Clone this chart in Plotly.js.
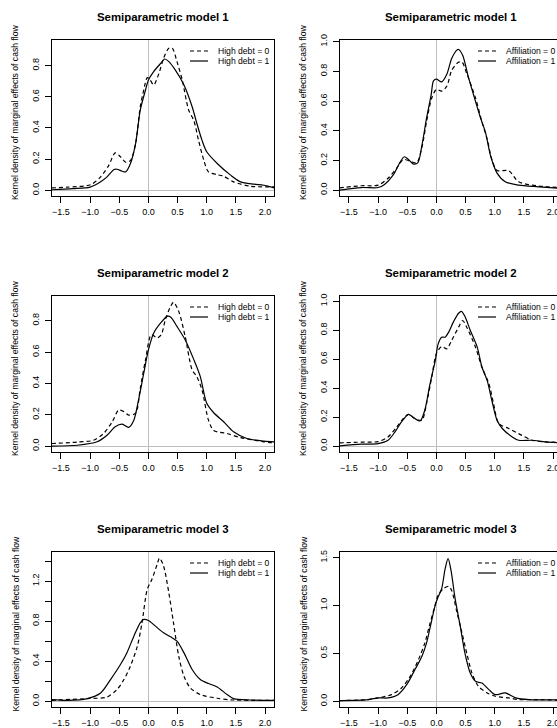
<!DOCTYPE html>
<html>
<head>
<meta charset="utf-8">
<script src="https://cdn.plot.ly/plotly-3.0.1.min.js"></script>
<style>
html, body { margin: 0; padding: 0; overflow: hidden; background: #fff; }
#chart { width: 576px; height: 768px; }
</style>
</head>
<body>
<div id="chart"></div>
<script>
// ---------- data ----------
const panelTitles = ["Semiparametric model 1", "Semiparametric model 1",
                     "Semiparametric model 2", "Semiparametric model 2",
                     "Semiparametric model 3", "Semiparametric model 3"];
const yAxisTitle = "Kernel density of marginal effects of cash flow";
const debtNames = ["High debt = 0", "High debt = 1"];
const affNames = ["Affiliation = 0", "Affiliation = 1"];

const xTicks = [-1.5, -1.0, -0.5, 0.0, 0.5, 1.0, 1.5, 2.0];
const xTickLabels = ["\u22121.5", "\u22121.0", "\u22120.5", "0.0", "0.5", "1.0", "1.5", "2.0"];
const yTicksA = [0, 0.2, 0.4, 0.6, 0.8];
const yTickLabelsA = ["0.0", "0.2", "0.4", "0.6", "0.8"];
const yTicksB = [0, 0.2, 0.4, 0.6, 0.8, 1.0];
const yTickLabelsB = ["0.0", "0.2", "0.4", "0.6", "0.8", "1.0"];
const yTicksC = [0, 0.2, 0.4, 0.6, 0.8, 1.0, 1.2, 1.4];
const yTickLabelsC = ["0.0", "", "0.4", "", "0.8", "", "1.2", ""];
const yTicksD = [0, 0.5, 1.0, 1.5];
const yTickLabelsD = ["0.0", "0.5", "1.0", "1.5"];

// Model 1, high debt
const m1DebtX0 = [-1.66,-1.39,-0.99,-0.82,-0.68,-0.57,-0.48,-0.39,-0.31,-0.22,-0.14,-0.08,-0.02,0.03,0.09,0.18,0.26,0.35,0.41,0.49,0.58,0.69,0.78,0.86,0.95,1.03,1.18,1.29,1.46,1.75,2.16];
const m1DebtY0 = [0.015,0.02,0.036,0.086,0.16,0.24,0.215,0.18,0.19,0.30,0.536,0.644,0.723,0.708,0.676,0.75,0.848,0.912,0.912,0.826,0.708,0.515,0.446,0.32,0.193,0.118,0.10,0.09,0.054,0.026,0.021];
const m1DebtX1 = [-1.66,-1.30,-1.0,-0.82,-0.71,-0.59,-0.54,-0.45,-0.39,-0.31,-0.22,-0.14,-0.05,0.0,0.09,0.21,0.28,0.35,0.46,0.61,0.75,0.83,0.92,1.0,1.18,1.41,1.58,1.81,1.98,2.16];
const m1DebtY1 = [0.003,0.01,0.02,0.054,0.086,0.133,0.135,0.122,0.118,0.17,0.30,0.515,0.644,0.708,0.762,0.815,0.843,0.826,0.773,0.676,0.536,0.43,0.32,0.247,0.172,0.097,0.054,0.039,0.032,0.015];

// Model 1, affiliation
const m1AffX0 = [-1.66,-1.29,-1.0,-0.83,-0.68,-0.57,-0.45,-0.34,-0.25,-0.17,-0.08,0.0,0.09,0.18,0.26,0.38,0.44,0.52,0.67,0.78,0.87,0.95,1.04,1.24,1.41,1.76,2.16];
const m1AffY0 = [0.016,0.03,0.034,0.08,0.149,0.207,0.195,0.184,0.287,0.46,0.621,0.678,0.667,0.701,0.805,0.862,0.862,0.786,0.621,0.46,0.345,0.207,0.133,0.131,0.057,0.028,0.018];
const m1AffX1 = [-1.66,-1.29,-1.0,-0.89,-0.74,-0.63,-0.55,-0.48,-0.40,-0.32,-0.25,-0.17,-0.09,-0.05,0.0,0.09,0.18,0.26,0.35,0.38,0.45,0.55,0.67,0.75,0.84,0.93,1.04,1.18,1.41,1.76,2.16];
const m1AffY1 = [0.0,0.018,0.018,0.039,0.103,0.184,0.225,0.207,0.177,0.184,0.299,0.483,0.644,0.736,0.747,0.729,0.782,0.885,0.943,0.947,0.908,0.759,0.598,0.494,0.391,0.23,0.115,0.057,0.034,0.023,0.011];

// Model 2, high debt
const m2DebtX0 = [-1.66,-1.22,-0.94,-0.77,-0.62,-0.51,-0.42,-0.34,-0.22,-0.14,-0.05,0.05,0.15,0.22,0.29,0.38,0.43,0.52,0.63,0.75,0.83,0.92,1.03,1.12,1.35,1.58,1.98,2.16];
const m2DebtY0 = [0.017,0.026,0.038,0.081,0.156,0.23,0.22,0.198,0.21,0.369,0.55,0.71,0.69,0.71,0.806,0.891,0.917,0.859,0.70,0.486,0.443,0.358,0.166,0.10,0.081,0.055,0.028,0.021];
const m2DebtX1 = [-1.66,-1.22,-0.88,-0.71,-0.57,-0.45,-0.34,-0.25,-0.17,-0.08,0.0,0.09,0.21,0.32,0.38,0.49,0.63,0.78,0.89,1.0,1.12,1.29,1.46,1.69,1.98,2.16];
const m2DebtY1 = [0.0,0.006,0.028,0.07,0.124,0.14,0.12,0.166,0.294,0.465,0.614,0.72,0.785,0.827,0.823,0.763,0.678,0.55,0.443,0.273,0.213,0.156,0.092,0.049,0.032,0.028];

// Model 2, affiliation
const m2AffX0 = [-1.66,-1.29,-1.0,-0.83,-0.68,-0.57,-0.48,-0.37,-0.25,-0.17,-0.08,0.0,0.09,0.18,0.26,0.38,0.45,0.52,0.67,0.78,0.90,0.98,1.07,1.24,1.41,1.64,1.87,2.16];
const m2AffY0 = [0.023,0.028,0.032,0.064,0.133,0.19,0.22,0.19,0.179,0.294,0.477,0.638,0.688,0.672,0.729,0.821,0.867,0.821,0.683,0.546,0.431,0.294,0.156,0.122,0.087,0.041,0.03,0.025];
const m2AffX1 = [-1.66,-1.29,-1.0,-0.83,-0.71,-0.60,-0.48,-0.40,-0.28,-0.2,-0.11,-0.02,0.03,0.09,0.15,0.21,0.29,0.38,0.43,0.49,0.58,0.70,0.78,0.87,0.95,1.04,1.13,1.30,1.41,1.64,1.87,2.16];
const m2AffY1 = [0.002,0.014,0.018,0.041,0.099,0.167,0.22,0.2,0.174,0.248,0.43,0.59,0.706,0.752,0.752,0.787,0.856,0.917,0.93,0.894,0.80,0.683,0.546,0.454,0.317,0.179,0.122,0.064,0.041,0.041,0.03,0.023];

// Model 3, high debt
const m3DebtX0 = [-1.66,-1.05,-0.71,-0.54,-0.42,-0.31,-0.19,-0.11,-0.02,0.06,0.15,0.19,0.26,0.35,0.43,0.52,0.61,0.72,0.89,1.18,1.46,2.16];
const m3DebtY0 = [0.01,0.027,0.043,0.117,0.217,0.35,0.55,0.783,1.117,1.217,1.367,1.43,1.35,1.083,0.783,0.45,0.25,0.133,0.067,0.03,0.013,0.01];
const m3DebtX1 = [-1.66,-1.39,-1.05,-0.82,-0.65,-0.48,-0.37,-0.25,-0.14,-0.08,0.0,0.12,0.26,0.38,0.49,0.61,0.75,0.89,1.03,1.18,1.35,1.46,1.75,2.16];
const m3DebtY1 = [0.017,0.01,0.027,0.083,0.217,0.367,0.483,0.65,0.783,0.817,0.807,0.75,0.683,0.643,0.60,0.483,0.317,0.217,0.177,0.143,0.067,0.027,0.013,0.01];

// Model 3, affiliation
const m3AffX0 = [-1.66,-1.17,-1.0,-0.77,-0.60,-0.45,-0.31,-0.2,-0.11,-0.03,0.03,0.12,0.21,0.26,0.35,0.44,0.52,0.61,0.72,0.87,1.01,1.24,1.41,1.76,2.16];
const m3AffY0 = [0.007,0.017,0.035,0.069,0.138,0.26,0.433,0.606,0.813,0.986,1.107,1.176,1.20,1.159,0.934,0.709,0.502,0.294,0.156,0.087,0.052,0.035,0.017,0.017,0.01];
const m3AffX1 = [-1.66,-1.17,-1.0,-0.83,-0.66,-0.51,-0.37,-0.25,-0.17,-0.08,-0.02,0.03,0.09,0.15,0.2,0.25,0.32,0.41,0.49,0.58,0.67,0.78,0.90,1.01,1.18,1.36,1.59,2.16];
const m3AffY1 = [0.007,0.017,0.035,0.035,0.069,0.173,0.329,0.467,0.606,0.848,1.003,1.09,1.176,1.384,1.488,1.367,1.073,0.779,0.50,0.294,0.208,0.19,0.121,0.069,0.087,0.035,0.017,0.014];

// ---------- layout ----------
const W = 576, H = 768;
const cols = [[52, 274], [340, 562]];
const rows = [[40, 196], [296, 452], [552, 707]];
const xRange = [-1.654, 2.154];
const yRanges = [[-0.037, 0.965], [-0.039, 1.011], [-0.037, 0.957], [-0.04, 1.036], [-0.057, 1.49], [-0.06, 1.558]];
const yTickSets = [[yTicksA, yTickLabelsA], [yTicksB, yTickLabelsB], [yTicksA, yTickLabelsA], [yTicksB, yTickLabelsB], [yTicksC, yTickLabelsC], [yTicksD, yTickLabelsD]];

const seriesData = [
  [[m1DebtX0, m1DebtY0], [m1DebtX1, m1DebtY1], debtNames],
  [[m1AffX0, m1AffY0], [m1AffX1, m1AffY1], affNames],
  [[m2DebtX0, m2DebtY0], [m2DebtX1, m2DebtY1], debtNames],
  [[m2AffX0, m2AffY0], [m2AffX1, m2AffY1], affNames],
  [[m3DebtX0, m3DebtY0], [m3DebtX1, m3DebtY1], debtNames],
  [[m3AffX0, m3AffY0], [m3AffX1, m3AffY1], affNames]
];

const FONT = "Liberation Sans, Arial, Helvetica, sans-serif";
const DASH = "4px,3px";
const LW = 1.2;

const traces = [];
const layout = {
  width: W, height: H,
  margin: {l: 0, r: 0, t: 0, b: 0},
  paper_bgcolor: "#fff", plot_bgcolor: "#fff",
  showlegend: false,
  font: {family: FONT, color: "#000", size: 9},
  annotations: [], shapes: []
};

for (let i = 0; i < 6; i++) {
  const r = Math.floor(i / 2), c = i % 2;
  const sfx = i === 0 ? "" : String(i + 1);
  const xa = "x" + sfx, ya = "y" + sfx;
  const [dash0, solid1, names] = seriesData[i];
  traces.push({x: dash0[0], y: dash0[1], name: names[0], type: "scatter", mode: "lines",
               line: {color: "#000", width: LW, dash: DASH, shape: "spline", smoothing: 0.8},
               xaxis: xa, yaxis: ya, hoverinfo: "skip"});
  traces.push({x: solid1[0], y: solid1[1], name: names[1], type: "scatter", mode: "lines",
               line: {color: "#000", width: LW, shape: "spline", smoothing: 0.8},
               xaxis: xa, yaxis: ya, hoverinfo: "skip"});

  const axCommon = {
    showline: true, mirror: true, linecolor: "#000", linewidth: 1,
    ticks: "outside", ticklen: 6, tickwidth: 1, tickcolor: "#000",
    showgrid: false, zeroline: true, zerolinecolor: "#BEBEBE", zerolinewidth: 1,
    tickfont: {family: FONT, size: 9, color: "#000"},
    fixedrange: true, automargin: false
  };
  layout["xaxis" + sfx] = Object.assign({}, axCommon, {
    domain: [cols[c][0] / W, cols[c][1] / W], range: xRange, anchor: ya,
    tickmode: "array", tickvals: xTicks, ticktext: xTickLabels, ticklabelstandoff: 1
  });
  layout["yaxis" + sfx] = Object.assign({}, axCommon, {
    domain: [1 - rows[r][1] / H, 1 - rows[r][0] / H], range: yRanges[i], anchor: xa,
    tickmode: "array", tickvals: yTickSets[i][0], ticktext: yTickSets[i][1], tickangle: -90,
    ticklabelstandoff: 2
  });

  const bw = cols[c][1] - cols[c][0], bh = rows[r][1] - rows[r][0];
  // panel title
  layout.annotations.push({text: "<b>" + panelTitles[i] + "</b>", xref: xa + " domain", yref: ya + " domain",
    x: 0.5, y: 1, yshift: 23, xanchor: "center", yanchor: "middle", showarrow: false,
    font: {family: FONT, size: 11.4, color: "#000"}});
  // y-axis title
  layout.annotations.push({text: yAxisTitle, xref: xa + " domain", yref: ya + " domain",
    x: 0, xshift: -37, y: 0.5, yshift: 5, textangle: -90, xanchor: "center", yanchor: "middle",
    showarrow: false, font: {family: FONT, size: 8.6, color: "#000"}});
  // legend
  const legY = [1 - 11 / bh, 1 - 21 / bh];
  for (let k = 0; k < 2; k++) {
    layout.shapes.push({type: "line", xref: xa + " domain", yref: ya + " domain",
      x0: 1 - 84 / bw, x1: 1 - 66 / bw, y0: legY[k], y1: legY[k],
      line: {color: "#000", width: LW, dash: k === 0 ? DASH : "solid"}});
    layout.annotations.push({text: names[k], xref: xa + " domain", yref: ya + " domain",
      x: 1 - 58 / bw, y: legY[k], xanchor: "left", yanchor: "middle", showarrow: false,
      font: {family: FONT, size: 8.6, color: "#000"}});
  }
}

Plotly.newPlot("chart", traces, layout, {staticPlot: true, displayModeBar: false});
</script>
</body>
</html>
